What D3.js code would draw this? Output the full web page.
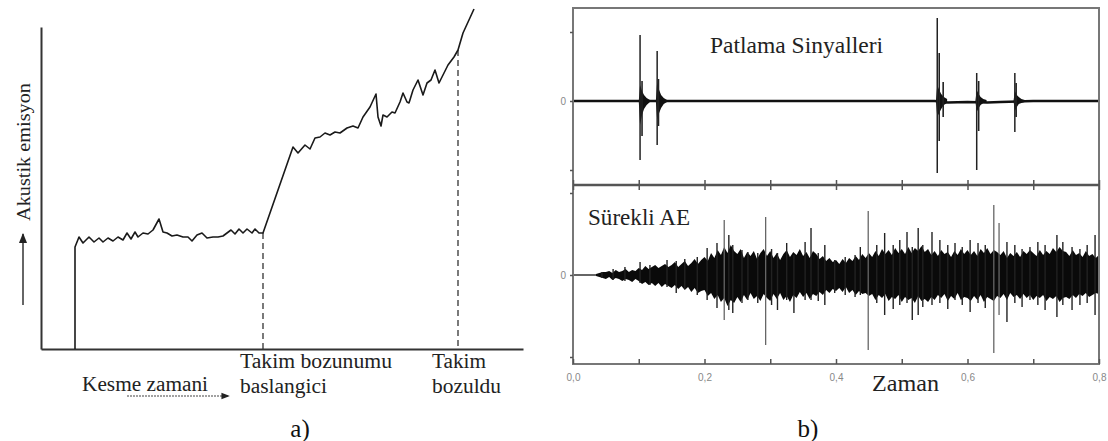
<!DOCTYPE html>
<html>
<head>
<meta charset="utf-8">
<script src="https://cdn.jsdelivr.net/npm/d3@7"></script>
<style>
html,body{margin:0;padding:0;background:#fff;}
svg{display:block;}
</style>
</head>
<body>
<script>
// ---------------- Panel a data (arbitrary units: time, acoustic emission) ----------------
const aTime = [34,34,38,42,48,53,58,62,67,72,77,82,86,90,94,97,102,107,112,118,122,126,131,136,142,147,151,156,161,166,172,177,182,186,190,194,198,202,206,211,214,218,222,
  252,257,264,269,274,279,284,289,294,299,306,312,317,322,329,335,337,340,342,346,351,354,359,362,366,368,372,377,382,386,390,394,398,402,407,413,417,422,433];
const aEmission = [0,102,112,106,112,107,111,107,111,108,112,109,116,110,117,112,116,115,119,130,117,116,113,114,112,112,108,114,116,111,112,112,113,116,119,115,120,116,120,116,120,116,116,
  202,196,204,200,211,212,216,214,217,216,221,223,221,232,242,255,232,223,234,232,237,236,247,256,247,246,259,269,254,266,269,279,266,274,284,292,299,316,340];
const aMarkerTime = [222,417];
const aMarkerEmission = [116,299];

// ---------------- Panel b data ----------------
const xTicks = [0,0.1,0.2,0.3,0.4,0.5,0.6,0.7,0.8];
const xTickLabels = ["0,0","","0,2","","0,4","","0,6","","0,8"];

// Burst (Patlama) signals
const baseT = [0,0.2,0.4,0.55,0.57,0.60,0.63,0.65,0.70,0.8];
const baseV = [0,0,0,0,-1.5,-1,-1.5,-1,0,0];
const burstT = [0.102,0.128,0.554,0.614,0.672];
const burstUp = [66,50,83,28,28];
const burstDown = [59,44,72,69,31];
const ringOffsets = [-0.002,0,0.003,0.006,0.010,0.015];
const ringUp = [[0,16,10,6,3,1],[0,19,11,6,3,1],[0,16,11,7,4,2],[0,11,7,4,2,1],[0,10,6,4,2,1]];
const ringDown = [[0,24,14,8,4,1],[0,19,12,7,3,1],[0,16,12,8,4,2],[0,11,7,4,2,1],[0,10,6,3,2,1]];
const burstExtraT = [0.105,0.130,0.557,0.563,0.617,0.674];
const burstExtraUp = [20,22,48,19,20,18];
const burstExtraDown = [35,25,40,16,30,16];

// Continuous (Sürekli AE) signal: ragged envelope every 0.005
const contT = d3.range(161).map(i => +(i * 0.005).toFixed(3));
const contUpper = [
  1,1,1,1,1,1,1,1,2,3,
  3,4,2,5,3,4,6,3,5,4,
  7,5,9,6,8,10,7,9,11,8,
  10,13,8,11,14,9,12,16,11,15,
  18,14,22,17,25,20,28,22,30,24,
  21,26,17,23,19,24,16,22,26,19,
  24,17,22,15,21,25,18,23,20,26,
  19,23,17,24,21,16,19,14,17,13,
  15,11,16,12,17,14,19,15,21,17,
  22,18,24,19,26,21,25,20,27,22,
  26,21,28,22,27,24,29,23,26,20,
  24,19,25,21,23,18,24,20,26,21,
  25,20,24,19,26,22,27,21,25,23,
  20,24,17,22,19,23,18,24,21,25,
  22,19,25,20,24,21,27,23,28,24,
  23,19,25,20,22,18,24,19,21,17,
  20];
const contLower = [
  1,1,1,1,1,1,1,1,2,3,
  4,2,5,3,4,6,4,5,7,4,
  6,9,7,10,8,11,8,12,9,11,
  13,10,14,11,15,12,17,13,18,16,
  15,21,18,24,20,27,23,31,25,28,
  22,27,20,25,18,24,21,26,19,23,
  26,19,24,18,25,21,27,20,23,17,
  22,18,24,19,21,17,20,15,18,14,
  16,13,17,12,18,15,20,16,19,18,
  21,19,25,20,23,19,26,22,24,20,
  27,22,25,23,28,21,26,24,27,22,
  25,20,23,19,26,21,24,18,25,22,
  23,26,21,25,20,27,22,24,26,21,
  23,19,25,18,22,20,24,19,23,20,
  25,21,23,20,26,22,24,21,27,23,
  22,24,20,23,19,21,18,22,20,18,
  19];
const spikeT = [0.044,0.061,0.079,0.102,0.117,0.143,0.157,0.170,0.189,0.204,0.219,0.230,0.237,0.243,0.257,
  0.266,0.281,0.293,0.302,0.311,0.325,0.336,0.353,0.362,0.373,0.383,0.398,0.414,0.429,0.437,0.449,0.462,0.474,0.487,0.497,0.508,0.516,0.525,
  0.532,0.546,0.558,0.570,0.581,0.592,0.604,0.616,0.627,0.640,0.648,0.660,0.672,0.683,0.695,0.707,0.718,0.736,0.745,0.759,0.771,0.782,0.794];
const spikeUp = [3,6,8,13,10,15,14,16,18,27,32,55,40,30,25,
  23,22,58,26,22,32,20,33,47,22,30,15,18,20,28,64,30,42,30,35,43,28,47,
  30,43,35,30,32,28,35,32,30,70,52,33,30,26,28,33,30,40,33,28,26,30,40];
const spikeDown = [3,5,6,8,10,12,18,14,20,25,33,45,35,38,28,
  25,28,70,30,35,25,38,25,25,26,30,18,20,22,20,75,28,40,34,30,28,45,40,
  32,30,28,34,25,30,37,28,33,78,40,47,28,32,25,30,35,42,30,35,30,28,40];

// ---------------- Drawing ----------------
const SERIF = "'Liberation Serif','Times New Roman','DejaVu Serif',serif";
const W = 1108, H = 441;
const svg = d3.select("body").append("svg").attr("width", W).attr("height", H);
svg.append("rect").attr("width", W).attr("height", H).attr("fill", "#fff");

// ===== Panel a =====
const xa = d3.scaleLinear().domain([0, 482]).range([41, 523]);
const ya = d3.scaleLinear().domain([0, 322]).range([349, 27]);
const gA = svg.append("g");

gA.append("g").attr("transform", `translate(0,${ya(0)})`)
  .call(d3.axisBottom(xa).tickValues([]).tickSizeOuter(0));
gA.append("g").attr("transform", `translate(${xa(0)},0)`)
  .call(d3.axisLeft(ya).tickValues([]).tickSizeOuter(0));
gA.selectAll(".domain").attr("stroke", "#333").attr("stroke-width", 2);

gA.selectAll("line.mark").data(aMarkerTime).join("line").attr("class", "mark")
  .attr("x1", d => xa(d)).attr("x2", d => xa(d))
  .attr("y1", (d, i) => ya(aMarkerEmission[i])).attr("y2", ya(0))
  .attr("stroke", "#333").attr("stroke-width", 1.3).attr("stroke-dasharray", "6,4");

const aPts = aTime.map((t, i) => [t, aEmission[i]]);
gA.append("path").datum(aPts)
  .attr("d", d3.line().x(d => xa(d[0])).y(d => ya(d[1])))
  .attr("fill", "none").attr("stroke", "#1a1a1a").attr("stroke-width", 1.6).attr("stroke-linejoin", "round");

const defs = svg.append("defs");
defs.append("marker").attr("id", "arr").attr("viewBox", "0 0 10 10").attr("refX", 9).attr("refY", 5)
  .attr("markerWidth", 7).attr("markerHeight", 7).attr("orient", "auto")
  .append("path").attr("d", "M0,1 L10,5 L0,9 Z").attr("fill", "#222");

gA.append("line").attr("x1", 23).attr("x2", 23).attr("y1", 305).attr("y2", 234)
  .attr("stroke", "#333").attr("stroke-width", 1.5).attr("marker-end", "url(#arr)");
gA.append("line").attr("x1", 127).attr("x2", 229).attr("y1", 396).attr("y2", 396)
  .attr("stroke", "#444").attr("stroke-width", 1.2).attr("stroke-dasharray", "2,1").attr("marker-end", "url(#arr)");

function serifText(sel) {
  return sel.style("font-family", SERIF).attr("fill", "#222").attr("lengthAdjust", "spacingAndGlyphs");
}

serifText(gA.append("text").attr("transform", "translate(30,152) rotate(-90)").attr("text-anchor", "middle")
  .attr("font-size", 19).attr("textLength", 138)).text("Akustik emisyon");

const aLabels = [
  {s: "Kesme zamani", x: 82, y: 391, w: 126},
  {s: "Takim bozunumu", x: 240, y: 368, w: 152},
  {s: "baslangici", x: 240, y: 393, w: 87},
  {s: "Takim", x: 432, y: 368, w: 54},
  {s: "bozuldu", x: 432, y: 393, w: 69}
];
serifText(gA.selectAll("text.lab").data(aLabels).join("text").attr("class", "lab")
  .attr("x", d => d.x).attr("y", d => d.y).attr("font-size", 20)
  .attr("textLength", d => d.w)).text(d => d.s);

serifText(svg.append("text").attr("x", 300).attr("y", 437).attr("text-anchor", "middle").attr("font-size", 25)).attr("fill", "#111").text("a)");
serifText(svg.append("text").attr("x", 808).attr("y", 437).attr("text-anchor", "middle").attr("font-size", 25)).attr("fill", "#111").text("b)");

// ===== Panel b =====
const xb = d3.scaleLinear().domain([0, 0.8]).range([573, 1099]);
const yTop = d3.scaleLinear().domain([-84, 93]).range([185, 8]);
const yBot = d3.scaleLinear().domain([-89, 90]).range([364, 185]);
const gB = svg.append("g");

const basePts = baseT.map((t, i) => [t, baseV[i]]);
gB.append("path").datum(basePts)
  .attr("d", d3.line().x(d => xb(d[0])).y(d => yTop(d[1])))
  .attr("fill", "none").attr("stroke", "#111").attr("stroke-width", 2.6);

burstT.forEach((t0, k) => {
  const pts = ringOffsets.map((o, j) => ({t: t0 + o, hi: ringUp[k][j], lo: -ringDown[k][j]}));
  gB.append("path").datum(pts)
    .attr("d", d3.area().x(d => xb(d.t)).y0(d => yTop(d.lo)).y1(d => yTop(d.hi)))
    .attr("fill", "#111");
});
gB.selectAll("line.bx").data(burstExtraT).join("line").attr("class", "bx")
  .attr("x1", d => xb(d)).attr("x2", d => xb(d))
  .attr("y1", (d, i) => yTop(burstExtraUp[i])).attr("y2", (d, i) => yTop(-burstExtraDown[i]))
  .attr("stroke", "#222").attr("stroke-width", 1.6);
gB.selectAll("line.bs").data(burstT).join("line").attr("class", "bs")
  .attr("x1", d => xb(d)).attr("x2", d => xb(d))
  .attr("y1", (d, i) => yTop(burstUp[i])).attr("y2", (d, i) => yTop(-burstDown[i]))
  .attr("stroke", "#222").attr("stroke-width", 1.5);

// Bottom signal
gB.append("line").attr("x1", xb(0)).attr("x2", xb(0.05)).attr("y1", yBot(0)).attr("y2", yBot(0))
  .attr("stroke", "#333").attr("stroke-width", 1.4);
const contPts = contT.map((t, i) => ({t, hi: contUpper[i], lo: -contLower[i]}));
gB.append("path").datum(contPts.filter(d => d.t >= 0.035))
  .attr("d", d3.area().x(d => xb(d.t)).y0(d => yBot(d.lo)).y1(d => yBot(d.hi)))
  .attr("fill", "#0a0a0a");
gB.selectAll("line.sp").data(spikeT).join("line").attr("class", "sp")
  .attr("x1", d => xb(d)).attr("x2", d => xb(d))
  .attr("y1", (d, i) => yBot(spikeUp[i])).attr("y2", (d, i) => yBot(-spikeDown[i]))
  .attr("stroke", (d, i) => (spikeUp[i] > 50 ? "#666" : "#222"))
  .attr("stroke-width", (d, i) => (spikeUp[i] > 50 ? 1.3 : 1.4));

// Frame
gB.append("rect").attr("x", xb(0)).attr("y", yTop(93)).attr("width", xb(0.8) - xb(0)).attr("height", yBot(-89) - yTop(93))
  .attr("fill", "none").attr("stroke", "#777").attr("stroke-width", 2);
gB.append("line").attr("x1", xb(0)).attr("x2", xb(0.8)).attr("y1", yBot(90)).attr("y2", yBot(90))
  .attr("stroke", "#555").attr("stroke-width", 2.4);

const bx = gB.append("g").attr("transform", `translate(0,${yBot(-89)})`)
  .call(d3.axisBottom(xb).tickValues(xTicks).tickSize(-5).tickPadding(10).tickFormat((d, i) => xTickLabels[i]));
const mx1 = gB.append("g").attr("transform", `translate(0,${yBot(90)})`)
  .call(d3.axisBottom(xb).tickValues(xTicks).tickSize(5).tickFormat(""));
const mx2 = gB.append("g").attr("transform", `translate(0,${yBot(90)})`)
  .call(d3.axisTop(xb).tickValues(xTicks).tickSize(5).tickFormat(""));
const lyT = gB.append("g").attr("transform", `translate(${xb(0)},0)`)
  .call(d3.axisLeft(yTop).tickValues([-69, 0, 69]).tickSize(3).tickPadding(4).tickFormat(d => (d === 0 ? "0" : "")));
const lyB = gB.append("g").attr("transform", `translate(${xb(0)},0)`)
  .call(d3.axisLeft(yBot).tickValues([-82, 0, 82]).tickSize(3).tickPadding(4).tickFormat(d => (d === 0 ? "0" : "")));
[bx, mx1, mx2, lyT, lyB].forEach(g => {
  g.select(".domain").remove();
  g.selectAll(".tick line").attr("stroke", "#555").attr("stroke-width", 1.5);
  g.selectAll(".tick text").attr("fill", "#888").attr("font-size", 10)
    .style("font-family", "'Liberation Sans Narrow','Liberation Sans',sans-serif");
});

serifText(gB.append("text").attr("x", 710).attr("y", 53).attr("font-size", 24).attr("textLength", 173)).text("Patlama Sinyalleri");
serifText(gB.append("text").attr("x", 588).attr("y", 225).attr("font-size", 24).attr("textLength", 102)).text("Sürekli AE");
serifText(gB.append("text").attr("x", 872).attr("y", 391).attr("font-size", 24).attr("textLength", 67)).text("Zaman");
</script>
</body>
</html>
